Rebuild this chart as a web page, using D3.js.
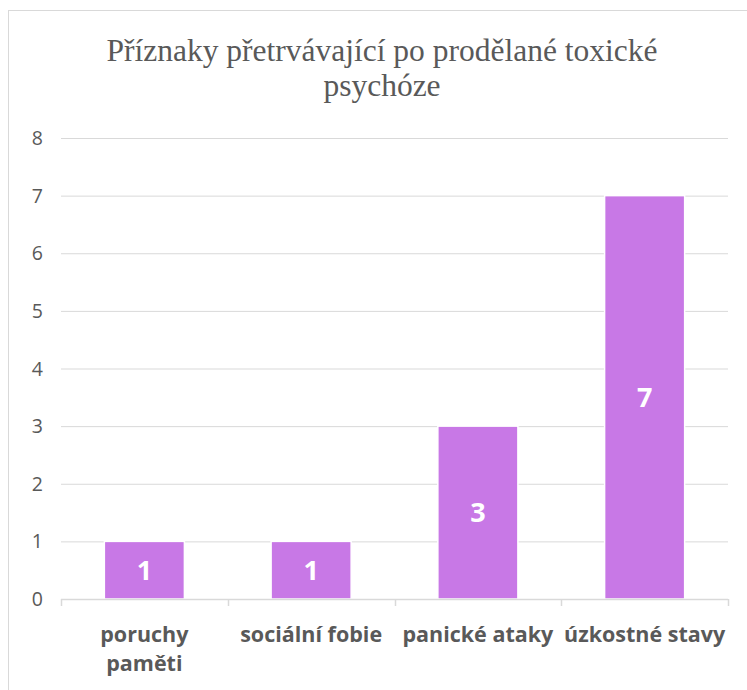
<!DOCTYPE html>
<html><head><meta charset="utf-8">
<script src="https://cdn.jsdelivr.net/npm/d3@7"></script>
<style>body{margin:0;background:#fff}svg{display:block}</style>
</head><body>
<svg id="c" width="747" height="690"></svg>
<script>
const categories = [["poruchy","paměti"],["sociální fobie"],["panické ataky"],["úzkostné stavy"]];
const values = [1,1,3,7];
const yTicks = [0,1,2,3,4,5,6,7,8];
const titleLines = ["Příznaky přetrvávající po prodělané toxické","psychóze"];

const svg = d3.select("#c");
const W = 747, H = 690;
const m = {left:61, right:19, top:138, bottom:91};
const textCol = "#595959";

// chart border
svg.append("rect").attr("x",8.5).attr("y",10.5).attr("width",W).attr("height",H)
  .attr("fill","none").attr("stroke","#d9d9d9").attr("stroke-width",1);

const x = d3.scaleBand().domain(categories.map((d,i)=>i)).range([m.left, W-m.right]).paddingInner(0.52).paddingOuter(0.26);
const y = d3.scaleLinear().domain([0,8]).range([H-m.bottom, m.top]);

// gridlines
svg.append("g").selectAll("line").data(yTicks.filter(t=>t>0)).join("line")
  .attr("x1",m.left).attr("x2",W-m.right)
  .attr("y1",d=>y(d)+0.5).attr("y2",d=>y(d)+0.5)
  .attr("stroke","#d9d9d9").attr("stroke-width",1);

// y labels
svg.append("g").selectAll("text").data(yTicks).join("text")
  .attr("x",43).attr("y",d=>y(d)).attr("dy","0.36em").attr("text-anchor","end")
  .attr("fill",textCol).attr("font-family","'Open Sans', sans-serif").attr("font-size",19.5)
  .text(d=>d);

// bars
svg.append("g").selectAll("rect").data(values).join("rect")
  .attr("x",(d,i)=>x(i)).attr("width",x.bandwidth())
  .attr("y",d=>y(d)).attr("height",d=>y(0)-y(d))
  .attr("fill","#C878E6").attr("stroke","#ffffff").attr("stroke-width",1.5);

// x axis
const xa = svg.append("g");
xa.append("line").attr("x1",m.left).attr("x2",W-m.right).attr("y1",y(0)+0.5).attr("y2",y(0)+0.5)
  .attr("stroke","#d9d9d9").attr("stroke-width",1.5);
const bounds = d3.range(categories.length+1).map(i=>m.left + i*(W-m.left-m.right)/categories.length);
xa.selectAll("line.t").data(bounds).join("line").attr("class","t")
  .attr("x1",d=>Math.round(d)+0.5).attr("x2",d=>Math.round(d)+0.5)
  .attr("y1",y(0)).attr("y2",y(0)+7).attr("stroke","#d9d9d9").attr("stroke-width",1.5);

// category labels
const cl = svg.append("g").selectAll("text").data(categories).join("text")
  .attr("x",(d,i)=>x(i)+x.bandwidth()/2).attr("y",642).attr("text-anchor","middle")
  .attr("fill",textCol).attr("font-family","'Open Sans', sans-serif").attr("font-weight","bold").attr("font-size",21.5);
cl.selectAll("tspan").data(d=>d).join("tspan")
  .attr("x",function(){return this.parentNode.getAttribute("x");})
  .attr("dy",(d,i)=>i===0?0:29).text(d=>d);

// data labels
svg.append("g").selectAll("text").data(values).join("text")
  .attr("x",(d,i)=>x(i)+x.bandwidth()/2).attr("y",d=>(y(d)+y(0))/2).attr("dy","0.36em")
  .attr("text-anchor","middle").attr("fill","#ffffff").attr("font-family","'Open Sans', sans-serif")
  .attr("font-weight","bold").attr("font-size",27).text(d=>d);

// title
svg.append("g").selectAll("text").data(titleLines).join("text")
  .attr("x",382).attr("y",(d,i)=>61+i*35).attr("text-anchor","middle")
  .attr("fill",textCol).attr("font-family","'Liberation Serif', 'Times New Roman', serif").attr("font-size",31.5)
  .text(d=>d);
</script>
</body></html>
